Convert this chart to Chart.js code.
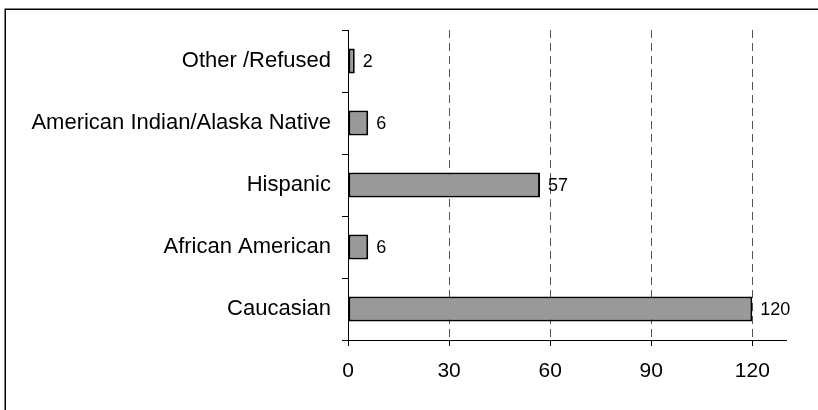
<!DOCTYPE html>
<html>
<head>
<meta charset="utf-8">
<script src="https://cdn.jsdelivr.net/npm/chart.js@4/dist/chart.umd.min.js"></script>
<style>
  html, body { margin: 0; padding: 0; background: #fff; }
  #wrap { width: 818px; height: 410px; }
</style>
</head>
<body>
<div id="wrap"><canvas id="c" width="818" height="410"></canvas></div>
<script>
const categories = ['Other /Refused', 'American Indian/Alaska Native', 'Hispanic', 'African American', 'Caucasian'];
const counts = [2, 6, 57, 6, 120];
const xTickValues = [0, 30, 60, 90, 120];
const xMin = 0;
const xMax = 130;

const FONT = '"Liberation Sans", Arial, sans-serif';

const framePlugin = {
  id: 'frame',
  beforeDraw(chart) {
    const ctx = chart.ctx;
    ctx.save();
    ctx.fillStyle = '#ffffff';
    ctx.fillRect(0, 0, chart.width, chart.height);
    ctx.strokeStyle = '#000000';
    ctx.lineWidth = 1.5;
    ctx.strokeRect(5.25, 9.25, 900, 500);
    ctx.restore();
  }
};

const valueLabels = {
  id: 'valueLabels',
  afterDatasetsDraw(chart) {
    const ctx = chart.ctx;
    const meta = chart.getDatasetMeta(0);
    ctx.save();
    ctx.font = '18px ' + FONT;
    ctx.fillStyle = '#000';
    ctx.textAlign = 'left';
    ctx.textBaseline = 'middle';
    meta.data.forEach((bar, i) => {
      ctx.fillText(String(counts[i]), bar.x + 8, bar.y + 1);
    });
    ctx.restore();
  }
};

new Chart(document.getElementById('c'), {
  type: 'bar',
  data: {
    labels: categories,
    datasets: [{
      data: counts,
      backgroundColor: '#999999',
      borderColor: '#000000',
      borderWidth: 2,
      borderSkipped: false,
      categoryPercentage: 1,
      barPercentage: 0.4
    }]
  },
  options: {
    indexAxis: 'y',
    responsive: false,
    animation: false,
    layout: { padding: { top: 30, right: 32, left: 0, bottom: 0 } },
    plugins: {
      legend: { display: false },
      tooltip: { enabled: false }
    },
    scales: {
      x: {
        type: 'linear',
        min: xMin,
        max: xMax,
        afterBuildTicks(scale) {
          scale.ticks = xTickValues.map(v => ({ value: v }));
        },
        afterFit(scale) { scale.height = 70; },
        border: { display: true, color: '#000', width: 1, dash: [8, 5] },
        grid: {
          drawOnChartArea: true,
          drawTicks: true,
          tickLength: 6,
          color: (c) => (c.tick && c.tick.value === 0) ? 'rgba(0,0,0,0)' : '#555555',
          tickColor: '#000000',
          tickBorderDash: [],
          lineWidth: 1
        },
        ticks: {
          padding: 13,
          color: '#000',
          font: { family: FONT, size: 21 }
        }
      },
      y: {
        offset: true,
        afterFit(scale) { scale.width = 348; },
        border: { display: true, color: '#000', width: 1 },
        grid: {
          offset: true,
          drawOnChartArea: false,
          drawTicks: true,
          tickLength: 6,
          color: '#000'
        },
        ticks: {
          padding: 11,
          color: '#000',
          font: { family: FONT, size: 22 }
        }
      }
    }
  },
  plugins: [framePlugin, valueLabels]
});
</script>
</body>
</html>
